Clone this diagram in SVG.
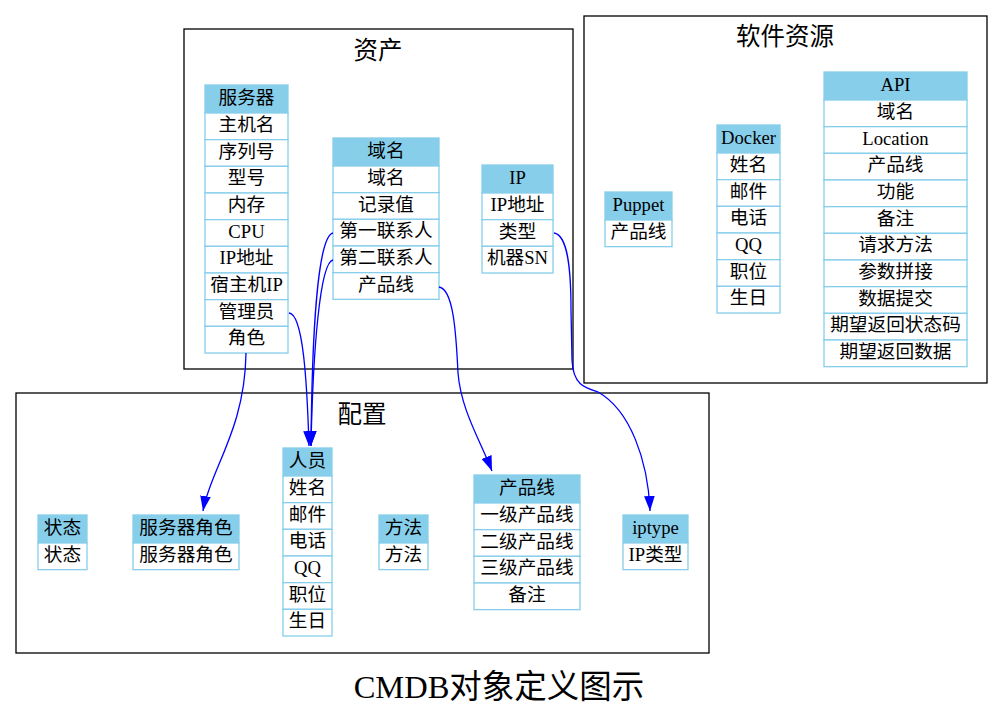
<svg xmlns="http://www.w3.org/2000/svg" width="1003" height="721" viewBox="0 0 1003 721">
<style>
.bg{fill:#fff}
.cl{fill:none;stroke:#000;stroke-width:1.3}
.h{fill:#87CEEB;stroke:#87CEEB;stroke-width:1.3}
.c{fill:#fff;stroke:#87CEEB;stroke-width:1.3}
text{font-family:"Liberation Serif","Noto Sans CJK SC",serif;text-anchor:middle;fill:#000}
.t{font-size:18.67px;transform:translateY(-1.5px)}
.cll{font-size:24.5px}
.ttl{font-size:32.5px}
.e{fill:none;stroke:#0000ff;stroke-width:1.3}
</style>
<defs>
<marker id="ah" markerUnits="userSpaceOnUse" markerWidth="15" markerHeight="11" viewBox="0 0 14 10" refX="14" refY="5" orient="auto">
<path d="M0,0 L14,5 L0,10 z" fill="#0000ff"/>
</marker>
</defs>
<rect class="bg" x="0" y="0" width="1003" height="721"/>

<g id="cluster-asset">
<rect class="cl" x="184" y="29" width="389" height="340"/>
<text class="cll" x="378" y="59">资产</text>
</g>
<g id="cluster-software">
<rect class="cl" x="584" y="16" width="403" height="367"/>
<text class="cll" x="785" y="45">软件资源</text>
</g>
<g id="cluster-config">
<rect class="cl" x="16" y="393" width="693" height="260"/>
<text class="cll" x="362" y="423">配置</text>
</g>

<g id="server">
<rect class="h" x="205" y="85" width="83" height="28"/>
<text class="t" x="246.5" y="105.5">服务器</text>
<rect class="c" x="205" y="113" width="83" height="26.67"/><text class="t" x="246.5" y="132.5">主机名</text>
<rect class="c" x="205" y="139.67" width="83" height="26.67"/><text class="t" x="246.5" y="159.2">序列号</text>
<rect class="c" x="205" y="166.33" width="83" height="26.67"/><text class="t" x="246.5" y="185.8">型号</text>
<rect class="c" x="205" y="193" width="83" height="26.67"/><text class="t" x="246.5" y="212.5">内存</text>
<rect class="c" x="205" y="219.67" width="83" height="26.67"/><text class="t" x="246.5" y="239.2">CPU</text>
<rect class="c" x="205" y="246.33" width="83" height="26.67"/><text class="t" x="246.5" y="265.8">IP地址</text>
<rect class="c" x="205" y="273" width="83" height="26.67"/><text class="t" x="246.5" y="292.5">宿主机IP</text>
<rect class="c" x="205" y="299.67" width="83" height="26.67"/><text class="t" x="246.5" y="319.2">管理员</text>
<rect class="c" x="205" y="326.33" width="83" height="26.67"/><text class="t" x="246.5" y="345.8">角色</text>
</g>

<g id="domain">
<rect class="h" x="333" y="138" width="106" height="28"/>
<text class="t" x="386" y="158.5">域名</text>
<rect class="c" x="333" y="166" width="106" height="26.67"/><text class="t" x="386" y="185.5">域名</text>
<rect class="c" x="333" y="192.67" width="106" height="26.67"/><text class="t" x="386" y="212.2">记录值</text>
<rect class="c" x="333" y="219.33" width="106" height="26.67"/><text class="t" x="386" y="238.8">第一联系人</text>
<rect class="c" x="333" y="246" width="106" height="26.67"/><text class="t" x="386" y="265.5">第二联系人</text>
<rect class="c" x="333" y="272.67" width="106" height="26.67"/><text class="t" x="386" y="292.2">产品线</text>
</g>

<g id="ip">
<rect class="h" x="482" y="165" width="71" height="28"/>
<text class="t" x="517.5" y="185.5">IP</text>
<rect class="c" x="482" y="193" width="71" height="26.67"/><text class="t" x="517.5" y="212.5">IP地址</text>
<rect class="c" x="482" y="219.67" width="71" height="26.67"/><text class="t" x="517.5" y="239.2">类型</text>
<rect class="c" x="482" y="246.33" width="71" height="26.67"/><text class="t" x="517.5" y="265.8">机器SN</text>
</g>

<g id="puppet">
<rect class="h" x="605" y="192" width="67" height="28"/>
<text class="t" x="638.5" y="212.5">Puppet</text>
<rect class="c" x="605" y="220" width="67" height="26.67"/><text class="t" x="638.5" y="239.5">产品线</text>
</g>

<g id="docker">
<rect class="h" x="717" y="125" width="63" height="28"/>
<text class="t" x="748.5" y="145.5">Docker</text>
<rect class="c" x="717" y="153" width="63" height="26.67"/><text class="t" x="748.5" y="172.5">姓名</text>
<rect class="c" x="717" y="179.67" width="63" height="26.67"/><text class="t" x="748.5" y="199.2">邮件</text>
<rect class="c" x="717" y="206.33" width="63" height="26.67"/><text class="t" x="748.5" y="225.8">电话</text>
<rect class="c" x="717" y="233" width="63" height="26.67"/><text class="t" x="748.5" y="252.5">QQ</text>
<rect class="c" x="717" y="259.67" width="63" height="26.67"/><text class="t" x="748.5" y="279.2">职位</text>
<rect class="c" x="717" y="286.33" width="63" height="26.67"/><text class="t" x="748.5" y="305.8">生日</text>
</g>

<g id="api">
<rect class="h" x="824" y="72" width="143" height="28"/>
<text class="t" x="895.5" y="92.5">API</text>
<rect class="c" x="824" y="100" width="143" height="26.67"/><text class="t" x="895.5" y="119.5">域名</text>
<rect class="c" x="824" y="126.67" width="143" height="26.67"/><text class="t" x="895.5" y="146.2">Location</text>
<rect class="c" x="824" y="153.33" width="143" height="26.67"/><text class="t" x="895.5" y="172.8">产品线</text>
<rect class="c" x="824" y="180" width="143" height="26.67"/><text class="t" x="895.5" y="199.5">功能</text>
<rect class="c" x="824" y="206.67" width="143" height="26.67"/><text class="t" x="895.5" y="226.2">备注</text>
<rect class="c" x="824" y="233.33" width="143" height="26.67"/><text class="t" x="895.5" y="252.8">请求方法</text>
<rect class="c" x="824" y="260" width="143" height="26.67"/><text class="t" x="895.5" y="279.5">参数拼接</text>
<rect class="c" x="824" y="286.67" width="143" height="26.67"/><text class="t" x="895.5" y="306.2">数据提交</text>
<rect class="c" x="824" y="313.33" width="143" height="26.67"/><text class="t" x="895.5" y="332.8">期望返回状态码</text>
<rect class="c" x="824" y="340" width="143" height="26.67"/><text class="t" x="895.5" y="359.5">期望返回数据</text>
</g>

<g id="status">
<rect class="h" x="38" y="515" width="49" height="28"/>
<text class="t" x="62.5" y="535.5">状态</text>
<rect class="c" x="38" y="543" width="49" height="26.67"/><text class="t" x="62.5" y="562.5">状态</text>
</g>

<g id="serverrole">
<rect class="h" x="133" y="515" width="106" height="28"/>
<text class="t" x="186" y="535.5">服务器角色</text>
<rect class="c" x="133" y="543" width="106" height="26.67"/><text class="t" x="186" y="562.5">服务器角色</text>
</g>

<g id="person">
<rect class="h" x="283" y="448" width="49" height="28"/>
<text class="t" x="307.5" y="468.5">人员</text>
<rect class="c" x="283" y="476" width="49" height="26.67"/><text class="t" x="307.5" y="495.5">姓名</text>
<rect class="c" x="283" y="502.67" width="49" height="26.67"/><text class="t" x="307.5" y="522.2">邮件</text>
<rect class="c" x="283" y="529.33" width="49" height="26.67"/><text class="t" x="307.5" y="548.8">电话</text>
<rect class="c" x="283" y="556" width="49" height="26.67"/><text class="t" x="307.5" y="575.5">QQ</text>
<rect class="c" x="283" y="582.67" width="49" height="26.67"/><text class="t" x="307.5" y="602.2">职位</text>
<rect class="c" x="283" y="609.33" width="49" height="26.67"/><text class="t" x="307.5" y="628.8">生日</text>
</g>

<g id="method">
<rect class="h" x="379" y="515" width="49" height="28"/>
<text class="t" x="403.5" y="535.5">方法</text>
<rect class="c" x="379" y="543" width="49" height="26.67"/><text class="t" x="403.5" y="562.5">方法</text>
</g>

<g id="productline">
<rect class="h" x="474" y="475" width="106" height="28"/>
<text class="t" x="527" y="495.5">产品线</text>
<rect class="c" x="474" y="503" width="106" height="26.67"/><text class="t" x="527" y="522.5">一级产品线</text>
<rect class="c" x="474" y="529.67" width="106" height="26.67"/><text class="t" x="527" y="549.2">二级产品线</text>
<rect class="c" x="474" y="556.33" width="106" height="26.67"/><text class="t" x="527" y="575.8">三级产品线</text>
<rect class="c" x="474" y="583" width="106" height="26.67"/><text class="t" x="527" y="602.5">备注</text>
</g>

<g id="iptype">
<rect class="h" x="623" y="515" width="65" height="28"/>
<text class="t" x="655.5" y="535.5">iptype</text>
<rect class="c" x="623" y="543" width="65" height="26.67"/><text class="t" x="655.5" y="562.5">IP类型</text>
</g>

<g id="connectors">
<path class="e" marker-end="url(#ah)" d="M289,313 C303,314 307,380 309,446"/>
<path class="e" marker-end="url(#ah)" d="M333,233 C318,236 312,330 311,446"/>
<path class="e" marker-end="url(#ah)" d="M333,260 C320,262 313,350 311,446"/>
<path class="e" marker-end="url(#ah)" d="M246,353 C245,430 210,470 203,511"/>
<path class="e" marker-end="url(#ah)" d="M439,287 C453,289 456,330 458,373 C461,410 480,440 492,471"/>
<path class="e" marker-end="url(#ah)" d="M554,233 C568,235 571,270 571,310 L572,360 C573,385 585,388 598,392 C630,410 648,460 650,511"/>
</g>

<text class="ttl" x="499" y="698">CMDB对象定义图示</text>
</svg>
